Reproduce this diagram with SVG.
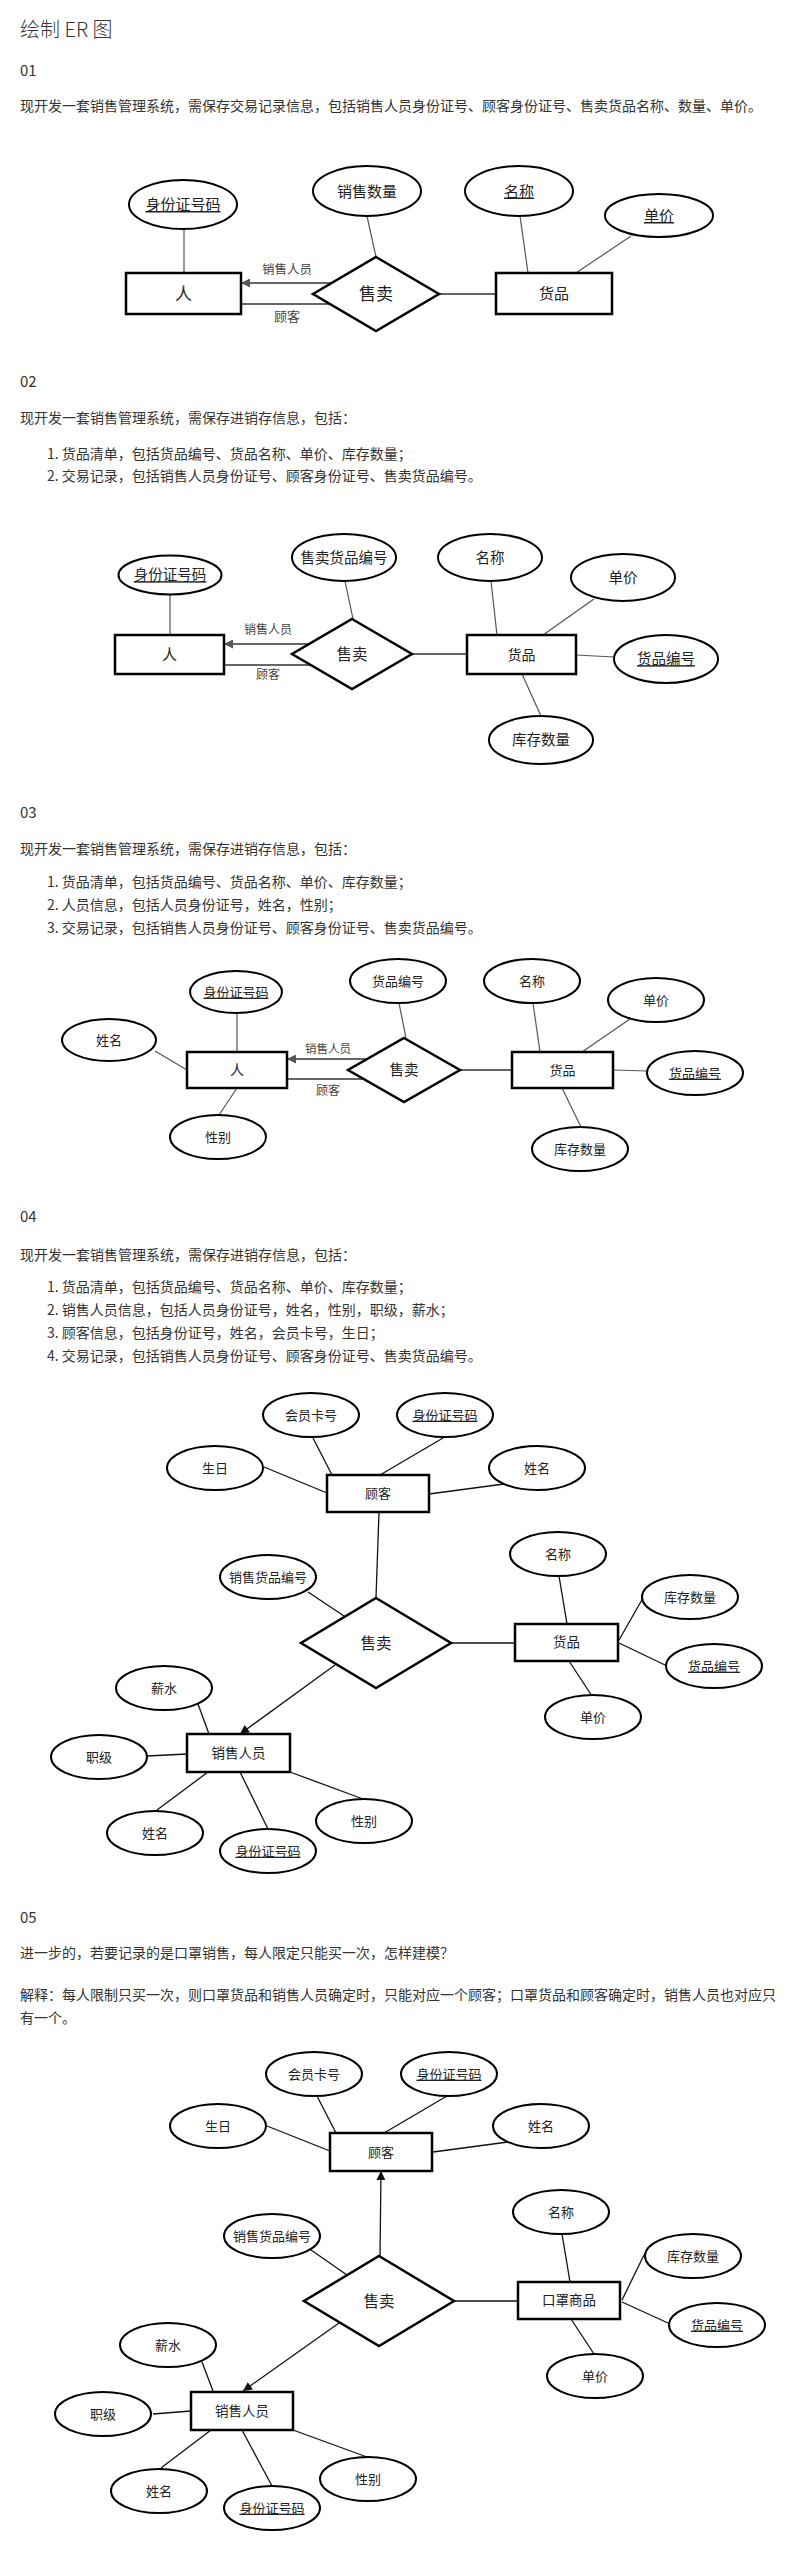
<svg xmlns="http://www.w3.org/2000/svg" width="800" height="2562" viewBox="0 0 800 2562">
<style>
text{font-family:"Noto Sans CJK SC","Noto Sans",sans-serif}
.b{font-size:14px;fill:#333}
.h{font-size:20px;fill:#333;font-weight:300}
.num{font-size:15px;fill:#333}
.at{fill:#fff;stroke:#000;stroke-width:2}
.en{fill:#fff;stroke:#000;stroke-width:2.5}
.nt{text-anchor:middle;fill:#222}
.u{text-decoration:underline}
.s1{font-size:15px}
.s2{font-size:14.5px}
.s3{font-size:13px}
.gl{stroke:#555;stroke-width:1.2;fill:none}
.gt{stroke:#666;stroke-width:2.2;fill:none}
.bl{stroke:#111;stroke-width:1.3;fill:none}
.lb{text-anchor:middle;fill:#444}
</style>
<defs>
<marker id="ag" viewBox="0 0 10 10" refX="10" refY="5" markerWidth="10" markerHeight="9" markerUnits="userSpaceOnUse" orient="auto"><path d="M0,0 L10,5 L0,10 z" fill="#555"/></marker>
<marker id="ab" viewBox="0 0 10 10" refX="10" refY="5" markerWidth="11" markerHeight="9" markerUnits="userSpaceOnUse" orient="auto"><path d="M0,0 L10,5 L0,10 z" fill="#111"/></marker>
</defs>
<rect x="0" y="0" width="800" height="2562" fill="#fff"/>

<g id="body-text">
<text class="h" x="20" y="37">绘制 ER 图</text>
<text class="num" x="20" y="76">01</text>
<text class="b" x="20" y="111">现开发一套销售管理系统，需保存交易记录信息，包括销售人员身份证号、顾客身份证号、售卖货品名称、数量、单价。</text>
<text class="num" x="20" y="387">02</text>
<text class="b" x="20" y="423">现开发一套销售管理系统，需保存进销存信息，包括：</text>
<text class="b" x="47" y="459">1. 货品清单，包括货品编号、货品名称、单价、库存数量；</text>
<text class="b" x="47" y="481">2. 交易记录，包括销售人员身份证号、顾客身份证号、售卖货品编号。</text>
<text class="num" x="20" y="818">03</text>
<text class="b" x="20" y="854">现开发一套销售管理系统，需保存进销存信息，包括：</text>
<text class="b" x="47" y="887">1. 货品清单，包括货品编号、货品名称、单价、库存数量；</text>
<text class="b" x="47" y="910">2. 人员信息，包括人员身份证号，姓名，性别；</text>
<text class="b" x="47" y="933">3. 交易记录，包括销售人员身份证号、顾客身份证号、售卖货品编号。</text>
<text class="num" x="20" y="1222">04</text>
<text class="b" x="20" y="1260">现开发一套销售管理系统，需保存进销存信息，包括：</text>
<text class="b" x="47" y="1292">1. 货品清单，包括货品编号、货品名称、单价、库存数量；</text>
<text class="b" x="47" y="1315">2. 销售人员信息，包括人员身份证号，姓名，性别，职级，薪水；</text>
<text class="b" x="47" y="1338">3. 顾客信息，包括身份证号，姓名，会员卡号，生日；</text>
<text class="b" x="47" y="1361">4. 交易记录，包括销售人员身份证号、顾客身份证号、售卖货品编号。</text>
<text class="num" x="20" y="1923">05</text>
<text class="b" x="20" y="1958">进一步的，若要记录的是口罩销售，每人限定只能买一次，怎样建模？</text>
<text class="b" x="20" y="2000">解释：每人限制只买一次，则口罩货品和销售人员确定时，只能对应一个顾客；口罩货品和顾客确定时，销售人员也对应只</text>
<text class="b" x="20" y="2023">有一个。</text>
</g>

<g id="connectors">
<!-- 01 -->
<line class="gl" x1="184" y1="229" x2="184" y2="273"/>
<line class="gl" x1="367" y1="216" x2="376" y2="257"/>
<line class="gl" x1="520" y1="216" x2="528" y2="273"/>
<line class="gl" x1="631" y1="236" x2="576" y2="273"/>
<line class="gt" x1="439" y1="294" x2="496" y2="294"/>
<line class="gt" x1="332" y1="283" x2="241" y2="283" marker-end="url(#ag)"/>
<line class="gt" x1="330" y1="304" x2="241" y2="304"/>
<text class="lb" x="287" y="273.5" font-size="12.5">销售人员</text>
<text class="lb" x="287" y="320.5" font-size="13">顾客</text>
<!-- 02 -->
<line class="gl" x1="170" y1="595" x2="170" y2="635"/>
<line class="gl" x1="345" y1="581" x2="353" y2="619"/>
<line class="gl" x1="491" y1="581" x2="497" y2="635"/>
<line class="gl" x1="594" y1="599" x2="543" y2="635"/>
<line class="gl" x1="576" y1="655" x2="614" y2="657"/>
<line class="gl" x1="522" y1="674" x2="541" y2="716"/>
<line class="gt" x1="412" y1="654" x2="467" y2="654"/>
<line class="gt" x1="309" y1="644" x2="224" y2="644" marker-end="url(#ag)"/>
<line class="gt" x1="311" y1="665" x2="224" y2="665"/>
<text class="lb" x="268" y="634.3" font-size="12">销售人员</text>
<text class="lb" x="268" y="679.3" font-size="12">顾客</text>
<!-- 03 -->
<line class="gl" x1="237" y1="1013" x2="237" y2="1052"/>
<line class="gl" x1="155" y1="1051" x2="187" y2="1070"/>
<line class="gl" x1="219" y1="1115" x2="237" y2="1088"/>
<line class="gl" x1="399" y1="1003" x2="406" y2="1038"/>
<line class="gl" x1="533" y1="1003" x2="540" y2="1052"/>
<line class="gl" x1="630" y1="1019" x2="582" y2="1052"/>
<line class="gl" x1="613" y1="1070" x2="647" y2="1071"/>
<line class="gl" x1="562" y1="1088" x2="581" y2="1127"/>
<line class="gt" x1="460" y1="1070" x2="512" y2="1070"/>
<line class="gt" x1="367" y1="1059" x2="287" y2="1059" marker-end="url(#ag)"/>
<line class="gt" x1="364" y1="1079" x2="287" y2="1079"/>
<text class="lb" x="328" y="1053" font-size="11.5">销售人员</text>
<text class="lb" x="328" y="1095.3" font-size="12">顾客</text>
<!-- 04 -->
<line class="bl" x1="313" y1="1438" x2="332" y2="1475"/>
<line class="bl" x1="443" y1="1438" x2="380" y2="1475"/>
<line class="bl" x1="264" y1="1467" x2="327" y2="1493"/>
<line class="bl" x1="504" y1="1484" x2="429" y2="1494"/>
<line class="bl" x1="379" y1="1512" x2="376" y2="1598"/>
<line class="bl" x1="308" y1="1592" x2="344" y2="1616"/>
<line class="bl" x1="559" y1="1576" x2="567" y2="1624"/>
<line class="bl" x1="643" y1="1598" x2="619" y2="1640"/>
<line class="bl" x1="665" y1="1665" x2="619" y2="1643"/>
<line class="bl" x1="569" y1="1661" x2="592" y2="1696"/>
<line class="bl" x1="451" y1="1643" x2="515" y2="1643"/>
<line class="bl" x1="335" y1="1665" x2="240" y2="1734" marker-end="url(#ab)"/>
<line class="bl" x1="198" y1="1704" x2="209" y2="1734"/>
<line class="bl" x1="147" y1="1756" x2="187" y2="1754"/>
<line class="bl" x1="157" y1="1810" x2="208" y2="1772"/>
<line class="bl" x1="268" y1="1829" x2="240" y2="1772"/>
<line class="bl" x1="363" y1="1799" x2="290" y2="1772"/>
<!-- 05 -->
<line class="bl" x1="317" y1="2096" x2="336" y2="2133"/>
<line class="bl" x1="447" y1="2096" x2="384" y2="2133"/>
<line class="bl" x1="267" y1="2126" x2="330" y2="2151"/>
<line class="bl" x1="508" y1="2142" x2="433" y2="2152"/>
<line class="bl" x1="380" y1="2256" x2="381" y2="2171" marker-end="url(#ab)"/>
<line class="bl" x1="311" y1="2250" x2="347" y2="2275"/>
<line class="bl" x1="562" y1="2234" x2="570" y2="2282"/>
<line class="bl" x1="644" y1="2255" x2="622" y2="2300"/>
<line class="bl" x1="668" y1="2323" x2="622" y2="2302"/>
<line class="bl" x1="571" y1="2319" x2="594" y2="2354"/>
<line class="bl" x1="454" y1="2301" x2="518" y2="2301"/>
<line class="bl" x1="339" y1="2323" x2="243" y2="2391" marker-end="url(#ab)"/>
<line class="bl" x1="202" y1="2362" x2="213" y2="2391"/>
<line class="bl" x1="153" y1="2414" x2="191" y2="2411"/>
<line class="bl" x1="161" y1="2468" x2="211" y2="2430"/>
<line class="bl" x1="272" y1="2486" x2="242" y2="2430"/>
<line class="bl" x1="367" y1="2457" x2="293" y2="2430"/>
</g>

<!-- Section 01 nodes -->
<g id="s1-id"><ellipse class="at" cx="183" cy="204.5" rx="54" ry="24.5"/><text class="nt s1 u" x="183" y="210">身份证号码</text></g>
<g id="s1-qty"><ellipse class="at" cx="367" cy="191" rx="54" ry="25"/><text class="nt s1" x="367" y="196.5">销售数量</text></g>
<g id="s1-name"><ellipse class="at" cx="519" cy="191" rx="54" ry="25"/><text class="nt s1 u" x="519" y="196.5">名称</text></g>
<g id="s1-price"><ellipse class="at" cx="659" cy="215.5" rx="54" ry="21.5"/><text class="nt s1 u" x="659" y="221">单价</text></g>
<g id="s1-person"><rect class="en" x="126" y="273" width="115" height="41"/><text class="nt" font-size="17" x="183.5" y="299.6">人</text></g>
<g id="s1-sell"><polygon class="en" points="376,257 439,294 376,331 313,294"/><text class="nt" font-size="17" x="376" y="300.1">售卖</text></g>
<g id="s1-goods"><rect class="en" x="496" y="273" width="116" height="41"/><text class="nt" font-size="15" x="554" y="299">货品</text></g>

<!-- Section 02 nodes -->
<g id="s2-id"><ellipse class="at" cx="170" cy="575" rx="51.5" ry="19.5"/><text class="nt s2 u" x="170" y="580.2">身份证号码</text></g>
<g id="s2-sellid"><ellipse class="at" cx="344" cy="557.5" rx="52" ry="23.5"/><text class="nt s2" x="344" y="562.7">售卖货品编号</text></g>
<g id="s2-name"><ellipse class="at" cx="490" cy="557.5" rx="52" ry="23.5"/><text class="nt s2" x="490" y="562.7">名称</text></g>
<g id="s2-price"><ellipse class="at" cx="623" cy="577.5" rx="52" ry="23.5"/><text class="nt s2" x="623" y="582.7">单价</text></g>
<g id="s2-person"><rect class="en" x="115" y="635" width="109" height="39"/><text class="nt" font-size="15" x="169.5" y="660">人</text></g>
<g id="s2-sell"><polygon class="en" points="352,619 412,654 352,689 292,654"/><text class="nt" font-size="15.5" x="352" y="659.6">售卖</text></g>
<g id="s2-goods"><rect class="en" x="467" y="635" width="109" height="39"/><text class="nt" font-size="14" x="521.5" y="659.5">货品</text></g>
<g id="s2-gid"><ellipse class="at" cx="666" cy="659" rx="52" ry="24"/><text class="nt s2 u" x="666" y="664.2">货品编号</text></g>
<g id="s2-stock"><ellipse class="at" cx="541" cy="740" rx="52" ry="24"/><text class="nt s2" x="541" y="745.2">库存数量</text></g>

<!-- Section 03 nodes -->
<g id="s3-name"><ellipse class="at" cx="109" cy="1040" rx="47" ry="21"/><text class="nt s3" x="109" y="1044.7">姓名</text></g>
<g id="s3-id"><ellipse class="at" cx="236" cy="992" rx="46" ry="21"/><text class="nt s3 u" x="236" y="996.7">身份证号码</text></g>
<g id="s3-gid1"><ellipse class="at" cx="398" cy="981" rx="48" ry="22"/><text class="nt s3" x="398" y="985.7">货品编号</text></g>
<g id="s3-gname"><ellipse class="at" cx="532" cy="981" rx="48" ry="22"/><text class="nt s3" x="532" y="985.7">名称</text></g>
<g id="s3-price"><ellipse class="at" cx="656" cy="1000" rx="48" ry="22"/><text class="nt s3" x="656" y="1004.7">单价</text></g>
<g id="s3-person"><rect class="en" x="187" y="1052" width="100" height="36"/><text class="nt" font-size="14" x="237" y="1075">人</text></g>
<g id="s3-sell"><polygon class="en" points="404,1038 460,1070 404,1102 348,1070"/><text class="nt" font-size="14.5" x="404" y="1075.2">售卖</text></g>
<g id="s3-goods"><rect class="en" x="512" y="1052" width="101" height="36"/><text class="nt" font-size="13" x="562.5" y="1074.7">货品</text></g>
<g id="s3-gid2"><ellipse class="at" cx="695" cy="1073" rx="48" ry="22"/><text class="nt s3 u" x="695" y="1077.7">货品编号</text></g>
<g id="s3-sex"><ellipse class="at" cx="218" cy="1137" rx="48" ry="22"/><text class="nt s3" x="218" y="1141.7">性别</text></g>
<g id="s3-stock"><ellipse class="at" cx="580" cy="1149" rx="48" ry="22"/><text class="nt s3" x="580" y="1153.7">库存数量</text></g>

<!-- Section 04 nodes -->
<g id="s4-card"><ellipse class="at" cx="311" cy="1415" rx="48" ry="22"/><text class="nt s3" x="311" y="1419.7">会员卡号</text></g>
<g id="s4-cid"><ellipse class="at" cx="445" cy="1415" rx="48" ry="22"/><text class="nt s3 u" x="445" y="1419.7">身份证号码</text></g>
<g id="s4-birth"><ellipse class="at" cx="215" cy="1468" rx="48" ry="22"/><text class="nt s3" x="215" y="1472.7">生日</text></g>
<g id="s4-cname"><ellipse class="at" cx="537" cy="1468" rx="48" ry="22"/><text class="nt s3" x="537" y="1472.7">姓名</text></g>
<g id="s4-customer"><rect class="en" x="327" y="1475" width="102" height="37"/><text class="nt" font-size="13" x="378" y="1498.2">顾客</text></g>
<g id="s4-sellid"><ellipse class="at" cx="268" cy="1577" rx="48" ry="22"/><text class="nt s3" x="268" y="1581.7">销售货品编号</text></g>
<g id="s4-sell"><polygon class="en" points="376,1598 451,1643 376,1688 301,1643"/><text class="nt" font-size="15.5" x="376" y="1648.6">售卖</text></g>
<g id="s4-gname"><ellipse class="at" cx="558" cy="1554" rx="48" ry="22"/><text class="nt s3" x="558" y="1558.7">名称</text></g>
<g id="s4-stock"><ellipse class="at" cx="690" cy="1597" rx="48" ry="22"/><text class="nt s3" x="690" y="1601.7">库存数量</text></g>
<g id="s4-goods"><rect class="en" x="515" y="1624" width="103" height="37"/><text class="nt" font-size="13.5" x="566.5" y="1647.4">货品</text></g>
<g id="s4-gid"><ellipse class="at" cx="714" cy="1666" rx="48" ry="22"/><text class="nt s3 u" x="714" y="1670.7">货品编号</text></g>
<g id="s4-price"><ellipse class="at" cx="593" cy="1717" rx="48" ry="22"/><text class="nt s3" x="593" y="1721.7">单价</text></g>
<g id="s4-salary"><ellipse class="at" cx="164" cy="1688" rx="48" ry="22"/><text class="nt s3" x="164" y="1692.7">薪水</text></g>
<g id="s4-seller"><rect class="en" x="187" y="1734" width="103" height="38"/><text class="nt" font-size="13.5" x="238.5" y="1757.9">销售人员</text></g>
<g id="s4-rank"><ellipse class="at" cx="99" cy="1757" rx="48" ry="22"/><text class="nt s3" x="99" y="1761.7">职级</text></g>
<g id="s4-sname"><ellipse class="at" cx="155" cy="1833" rx="48" ry="22"/><text class="nt s3" x="155" y="1837.7">姓名</text></g>
<g id="s4-sid"><ellipse class="at" cx="268" cy="1851" rx="48" ry="22"/><text class="nt s3 u" x="268" y="1855.7">身份证号码</text></g>
<g id="s4-sex"><ellipse class="at" cx="364" cy="1821" rx="48" ry="22"/><text class="nt s3" x="364" y="1825.7">性别</text></g>

<!-- Section 05 nodes -->
<g id="s5-card"><ellipse class="at" cx="314" cy="2074" rx="48" ry="22"/><text class="nt s3" x="314" y="2078.7">会员卡号</text></g>
<g id="s5-cid"><ellipse class="at" cx="449" cy="2074" rx="48" ry="22"/><text class="nt s3 u" x="449" y="2078.7">身份证号码</text></g>
<g id="s5-birth"><ellipse class="at" cx="218" cy="2126" rx="48" ry="22"/><text class="nt s3" x="218" y="2130.7">生日</text></g>
<g id="s5-cname"><ellipse class="at" cx="541" cy="2126" rx="48" ry="22"/><text class="nt s3" x="541" y="2130.7">姓名</text></g>
<g id="s5-customer"><rect class="en" x="330" y="2133" width="102" height="38"/><text class="nt" font-size="13" x="381" y="2156.7">顾客</text></g>
<g id="s5-sellid"><ellipse class="at" cx="272" cy="2236" rx="48" ry="22"/><text class="nt s3" x="272" y="2240.7">销售货品编号</text></g>
<g id="s5-sell"><polygon class="en" points="379,2256 454,2301 379,2346 304,2301"/><text class="nt" font-size="15.5" x="379" y="2306.6">售卖</text></g>
<g id="s5-gname"><ellipse class="at" cx="561" cy="2212" rx="48" ry="22"/><text class="nt s3" x="561" y="2216.7">名称</text></g>
<g id="s5-stock"><ellipse class="at" cx="693" cy="2256" rx="48" ry="22"/><text class="nt s3" x="693" y="2260.7">库存数量</text></g>
<g id="s5-mask"><rect class="en" x="518" y="2282" width="102" height="37"/><text class="nt" font-size="13.5" x="569" y="2305.4">口罩商品</text></g>
<g id="s5-gid"><ellipse class="at" cx="717" cy="2325" rx="48" ry="22"/><text class="nt s3 u" x="717" y="2329.7">货品编号</text></g>
<g id="s5-price"><ellipse class="at" cx="595" cy="2376" rx="48" ry="22"/><text class="nt s3" x="595" y="2380.7">单价</text></g>
<g id="s5-salary"><ellipse class="at" cx="168" cy="2345" rx="48" ry="22"/><text class="nt s3" x="168" y="2349.7">薪水</text></g>
<g id="s5-seller"><rect class="en" x="191" y="2392" width="102" height="38"/><text class="nt" font-size="13.5" x="242" y="2415.9">销售人员</text></g>
<g id="s5-rank"><ellipse class="at" cx="103" cy="2414" rx="48" ry="22"/><text class="nt s3" x="103" y="2418.7">职级</text></g>
<g id="s5-sname"><ellipse class="at" cx="159" cy="2491" rx="48" ry="22"/><text class="nt s3" x="159" y="2495.7">姓名</text></g>
<g id="s5-sid"><ellipse class="at" cx="272" cy="2508" rx="48" ry="22"/><text class="nt s3 u" x="272" y="2512.7">身份证号码</text></g>
<g id="s5-sex"><ellipse class="at" cx="368" cy="2479" rx="48" ry="22"/><text class="nt s3" x="368" y="2483.7">性别</text></g>
</svg>
